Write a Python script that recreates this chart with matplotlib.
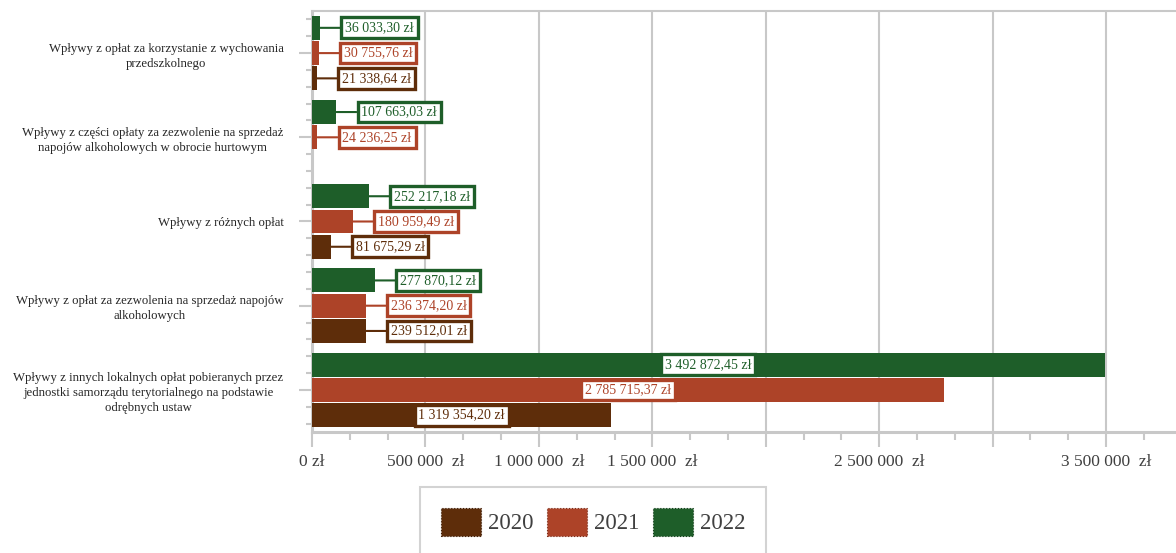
import numpy as np
import matplotlib
matplotlib.use("Agg")
import matplotlib.pyplot as plt
from matplotlib.patches import Patch
from matplotlib.ticker import MultipleLocator, FixedLocator

plt.rcParams['font.family'] = ['Liberation Serif', 'DejaVu Serif']

# data (top to bottom, as in the chart)
categories = [
    "Wpływy z opłat za korzystanie z wychowania\nprzedszkolnego",
    "Wpływy z części opłaty za zezwolenie na sprzedaż\nnapojów alkoholowych w obrocie hurtowym",
    "Wpływy z różnych opłat",
    "Wpływy z opłat za zezwolenia na sprzedaż napojów\nalkoholowych",
    "Wpływy z innych lokalnych opłat pobieranych przez\njednostki samorządu terytorialnego na podstawie\nodrębnych ustaw",
]
years = ["2020", "2021", "2022"]
v2020 = [21338.64, np.nan, 81675.29, 239512.01, 1319354.20]
v2021 = [30755.76, 24236.25, 180959.49, 236374.20, 2785715.37]
v2022 = [36033.30, 107663.03, 252217.18, 277870.12, 3492872.45]

xtick_vals = [0, 500000, 1000000, 1500000, 2000000, 2500000, 3000000, 3500000]
xtick_labels = ["0 zł", "500 000  zł", "1 000 000  zł", "1 500 000  zł", "",
                "2 500 000  zł", "", "3 500 000  zł"]

colors = {"2020": "#5e2d0a", "2021": "#ad4328", "2022": "#1e5e29"}
edge_dark = {"2020": "#3c1c05", "2021": "#7a2c18", "2022": "#123c19"}
grey = "#c8c8c8"


def fmt_pln(v):
    s = "{:,.2f}".format(v)
    s = s.replace(",", " ").replace(".", ",")
    return s + " zł"


fig = plt.figure(figsize=(11.76, 5.53), dpi=100)
ax = fig.add_axes([312/1176, 1-432/553, 1-312/1176, (432-11)/553])

y = np.arange(len(categories))
offsets = {"2022": -0.3, "2021": 0.0, "2020": 0.3}
series = {"2020": v2020, "2021": v2021, "2022": v2022}

for yr in years:
    vals = series[yr]
    c = colors[yr]
    ax.barh(y + offsets[yr], vals, height=0.285, color=c, zorder=3)
    for i, v in enumerate(vals):
        if np.isnan(v):
            continue
        yy = y[i] + offsets[yr]
        bbox = dict(boxstyle="square,pad=0.28", fc="white", ec=c, lw=2.4)
        if v > 1e6:
            ax.text(v/2, yy, fmt_pln(v), ha="center", va="center",
                    color=c, fontsize=10, bbox=bbox, zorder=5)
        else:
            ax.annotate(fmt_pln(v), xy=(v, yy), xytext=(25, 0),
                        textcoords="offset pixels", ha="left", va="center",
                        color=c, fontsize=10, bbox=bbox, zorder=5,
                        arrowprops=dict(arrowstyle="-", color=c, lw=1.5,
                                        shrinkA=0, shrinkB=0))

ax.set_xlim(0, 3.808e6)
ax.set_ylim(len(categories) - 0.5, -0.5)

ax.xaxis.set_major_locator(FixedLocator(xtick_vals))
ax.set_xticklabels(xtick_labels, fontsize=12.5, color="#404040")
ax.xaxis.set_minor_locator(MultipleLocator(500000/3))
ax.grid(axis="x", which="major", color=grey, lw=1.5, zorder=0)

ax.set_yticks(y)
ax.set_yticklabels(categories, fontsize=9.2, color="#262626",
                   ha="right", multialignment="center", linespacing=1.35)
minor_y = np.concatenate([y + d for d in (-0.4, -0.2, 0.2, 0.4)])
ax.yaxis.set_minor_locator(FixedLocator(minor_y))

ax.tick_params(axis="x", which="major", length=11, width=1.5, color=grey, pad=5)
ax.tick_params(axis="x", which="minor", length=6, width=1.5, color=grey)
ax.tick_params(axis="y", which="major", length=9.5, width=1.5, color=grey, pad=11)
ax.tick_params(axis="y", which="minor", length=4.5, width=1.5, color=grey)

for side in ["left", "bottom"]:
    ax.spines[side].set_color(grey)
    ax.spines[side].set_linewidth(2.2)
ax.spines["top"].set_color(grey)
ax.spines["top"].set_linewidth(1.5)
ax.spines["right"].set_visible(False)

handles = [Patch(facecolor=colors[yr], edgecolor=edge_dark[yr], linestyle=":",
                 lw=0.8) for yr in years]
leg = fig.legend(handles, years, loc="upper left",
                 bbox_to_anchor=(420/1176, 1-487/553), ncol=3,
                 fontsize=16.5, frameon=True, fancybox=False, borderaxespad=0,
                 borderpad=0.9, handlelength=1.75, handleheight=1.5,
                 handletextpad=0.3, columnspacing=0.6, labelcolor="#404040")
leg.get_frame().set_edgecolor(grey)
leg.get_frame().set_linewidth(1.5)

fig.savefig("out.png", dpi=100)
